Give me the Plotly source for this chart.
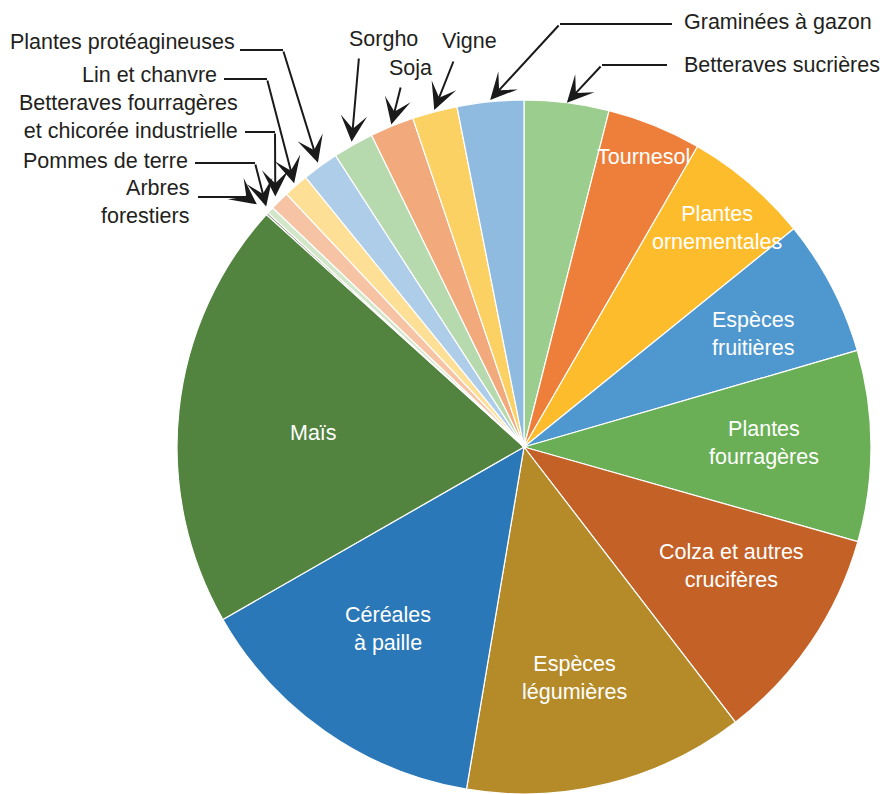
import math
import plotly.graph_objects as go

W, H = 882, 794

# Crop categories, clockwise from 12 o'clock
crops = [
    "Betteraves sucrières", "Tournesol", "Plantes ornementales", "Espèces fruitières",
    "Plantes fourragères", "Colza et autres crucifères", "Espèces légumières",
    "Céréales à paille", "Maïs", "Arbres forestiers", "Pommes de terre",
    "Betteraves fourragères et chicorée industrielle", "Lin et chanvre",
    "Plantes protéagineuses", "Sorgho", "Soja", "Vigne", "Graminées à gazon",
]
# Share of each category (%)
shares = [3.95, 4.4, 5.85, 6.35, 8.9, 10.2, 13.1, 14.1, 20.0,
          0.1, 0.32, 0.9, 1.17, 1.7, 1.9, 2.05, 2.1, 3.1]
colors = [
    "#9bcd8e", "#ee7f3a", "#fcbc2b", "#4e97cf", "#6aaf55", "#c46127",
    "#b48b28", "#2a78b8", "#52843f", "#8a8a7a", "#d2e7c9", "#f6c3a4",
    "#fde095", "#aecde8", "#b7d9ae", "#f2a97b", "#fcd163", "#8fbbe0",
]

# Pie placement
DX = [(524 - 347) / W, (524 + 347) / W]
DY = [0.0, 694 / H]
cx = (DX[0] + DX[1]) / 2 * W
cy = H * (1 - (DY[0] + DY[1]) / 2)
R = min((DX[1] - DX[0]) * W, (DY[1] - DY[0]) * H) / 2

total = sum(shares)
mid_angle = {}
acc = 0.0
for name, v in zip(crops, shares):
    a0 = acc / total * 360
    acc += v
    a1 = acc / total * 360
    mid_angle[name] = (a0 + a1) / 2


def polar(angle_deg, rfrac):
    t = math.radians(angle_deg)
    return cx + rfrac * R * math.sin(t), cy - rfrac * R * math.cos(t)


def px(x, y):
    return x / W, 1 - y / H


fig = go.Figure(go.Pie(
    labels=crops, values=shares, sort=False, direction="clockwise", rotation=0,
    marker=dict(colors=colors, line=dict(color="white", width=1.2)),
    textinfo="none", hoverinfo="label+percent", showlegend=False,
    domain=dict(x=DX, y=DY),
))

FONT = "Liberation Sans, Arial, Helvetica, sans-serif"
FS = 21.5
annotations = []
shapes = []

# White labels inside the large slices (pixel centres)
inside = {
    "Tournesol": ("Tournesol", 643, 157),
    "Plantes ornementales": ("Plantes<br>ornementales", 717, 228),
    "Espèces fruitières": ("Espèces<br>fruitières", 753, 334),
    "Plantes fourragères": ("Plantes<br>fourragères", 764, 443),
    "Colza et autres crucifères": ("Colza et autres<br>crucifères", 731, 566),
    "Espèces légumières": ("Espèces<br>légumières", 574, 678),
    "Céréales à paille": ("Céréales<br>à paille", 388, 629),
    "Maïs": ("Maïs", 313, 433),
}
for key, (txt, x, y) in inside.items():
    xp, yp = px(x, y)
    annotations.append(dict(
        x=xp, y=yp, xref="paper", yref="paper", text=txt, showarrow=False,
        xanchor="center", yanchor="middle", align="center",
        font=dict(family=FONT, size=FS, color="white"),
    ))

# Outside labels: text box, leader path (elbow), tip radius factor
outside = [
    # name, text, text x, text y, xanchor, elbow points, tip r
    ("Graminées à gazon", "Graminées à gazon", 682, 22, "left", [(672, 24), (560, 24)], 1.005),
    ("Betteraves sucrières", "Betteraves sucrières", 682, 65, "left", [(667, 65), (602, 65)], 1.0),
    ("Vigne", "Vigne", 469, 41, "center", [(454, 60)], 1.005),
    ("Soja", "Soja", 410, 68, "center", [(401, 86)], 1.005),
    ("Sorgho", "Sorgho", 383, 39, "center", [(359, 57)], 1.01),
    ("Plantes protéagineuses", "Plantes protéagineuses", 237, 42, "right", [(240, 50), (283, 50)], 1.012),
    ("Lin et chanvre", "Lin et chanvre", 219, 75, "right", [(224, 79), (267, 79)], 1.008),
    ("Betteraves fourragères et chicorée industrielle",
     "Betteraves fourragères<br>et chicorée industrielle", 240, 117, "right",
     [(245, 132), (275, 132)], 1.017),
    ("Pommes de terre", "Pommes de terre", 190, 161, "right", [(195, 163), (255, 163)], 1.016),
    ("Arbres forestiers", "Arbres<br>forestiers", 191, 202, "right", [(198, 197), (247, 197)], 1.04),
]
LINE = "#1a1a1a"
for name, txt, tx, ty, anchor, path, rtip in outside:
    xp, yp = px(tx, ty)
    annotations.append(dict(
        x=xp, y=yp, xref="paper", yref="paper", text=txt, showarrow=False,
        xanchor=anchor, yanchor="middle", align="right" if anchor == "right" else "left",
        font=dict(family=FONT, size=FS, color="#231f20"),
    ))
    # horizontal part of the leader
    for (x0, y0), (x1, y1) in zip(path[:-1], path[1:]):
        a0, b0 = px(x0, y0)
        a1, b1 = px(x1, y1)
        shapes.append(dict(type="line", xref="paper", yref="paper",
                           x0=a0, y0=b0, x1=a1, y1=b1,
                           line=dict(color=LINE, width=2)))
    # arrow from the last elbow point to the slice rim
    tipx, tipy = polar(mid_angle[name], rtip)
    sx, sy = path[-1]
    txp, typ = px(tipx, tipy)
    annotations.append(dict(
        x=txp, y=typ, xref="paper", yref="paper", text="", showarrow=True,
        ax=sx - tipx, ay=sy - tipy, axref="pixel", ayref="pixel",
        arrowhead=3, arrowsize=2.2, arrowwidth=2, arrowcolor=LINE, standoff=0,
    ))

fig.update_layout(
    width=W, height=H, margin=dict(l=0, r=0, t=0, b=0),
    paper_bgcolor="white", plot_bgcolor="white",
    annotations=annotations, shapes=shapes,
)

fig.write_html("out.html")
